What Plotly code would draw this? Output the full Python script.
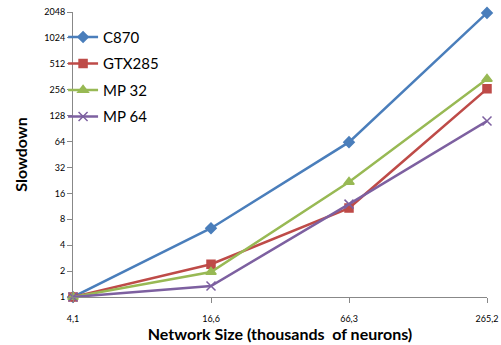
import plotly.graph_objects as go

categories = ["4,1", "16,6", "66,3", "265,2"]
c870 = [1, 6.3, 63, 2000]
gtx285 = [1, 2.4, 10.8, 262]
mp32 = [1, 1.95, 21.7, 342]
mp64 = [1, 1.34, 12, 111]
y_ticks = [1, 2, 4, 8, 16, 32, 64, 128, 256, 512, 1024, 2048]

series = [
    ("C870", c870, "#4A7EBB", "diamond", 8),
    ("GTX285", gtx285, "#BE4B48", "square", 8),
    ("MP 32", mp32, "#98B954", "triangle-up", 9),
    ("MP 64", mp64, "#7D60A0", "x-thin-open", 9),
]

fig = go.Figure()
for name, vals, color, sym, size in series:
    fig.add_trace(go.Scatter(
        x=categories, y=vals, name=name, legendgroup=name, mode="lines+markers",
        line=dict(color=color, width=2.5),
        marker=dict(symbol=sym, size=size, color=color, line=dict(color=color, width=1.5)),
        cliponaxis=False,
    ))

fig.update_layout(
    width=501, height=345,
    margin=dict(l=73, r=14, t=12, b=48),
    paper_bgcolor="white", plot_bgcolor="white",
    font=dict(family="Lato, Open Sans, sans-serif", color="#000"),
    showlegend=True,
    legend=dict(x=-0.024, y=0.969, xanchor="left", yanchor="top",
                font=dict(size=15, color="#000"), bgcolor="rgba(0,0,0,0)",
                itemwidth=30, tracegroupgap=4),
    xaxis=dict(
        type="category", range=[0, 3], showgrid=False, zeroline=False,
        showline=True, linecolor="#888", linewidth=1, automargin=False,
        ticks="outside", ticklen=5, tickcolor="#888",
        tickfont=dict(size=9), ticklabelstandoff=8, ticklabeloverflow="allow",
        title=dict(text="<b>Network Size (thousands  of neurons)</b>", font=dict(size=16), standoff=5),
    ),
    yaxis=dict(
        type="log", range=[0, 3.3113], showgrid=False, zeroline=False,
        showline=True, linecolor="#888", linewidth=1, automargin=False,
        ticks="outside", ticklen=5, tickcolor="#888",
        tickvals=y_ticks, ticktext=[str(v) for v in y_ticks],
        tickfont=dict(size=9),
        title=dict(text="<b>Slowdown</b>", font=dict(size=16), standoff=12),
    ),
)

fig.write_html("out.html", config={"displayModeBar": False},
               post_script="document.body.style.margin='0';")
